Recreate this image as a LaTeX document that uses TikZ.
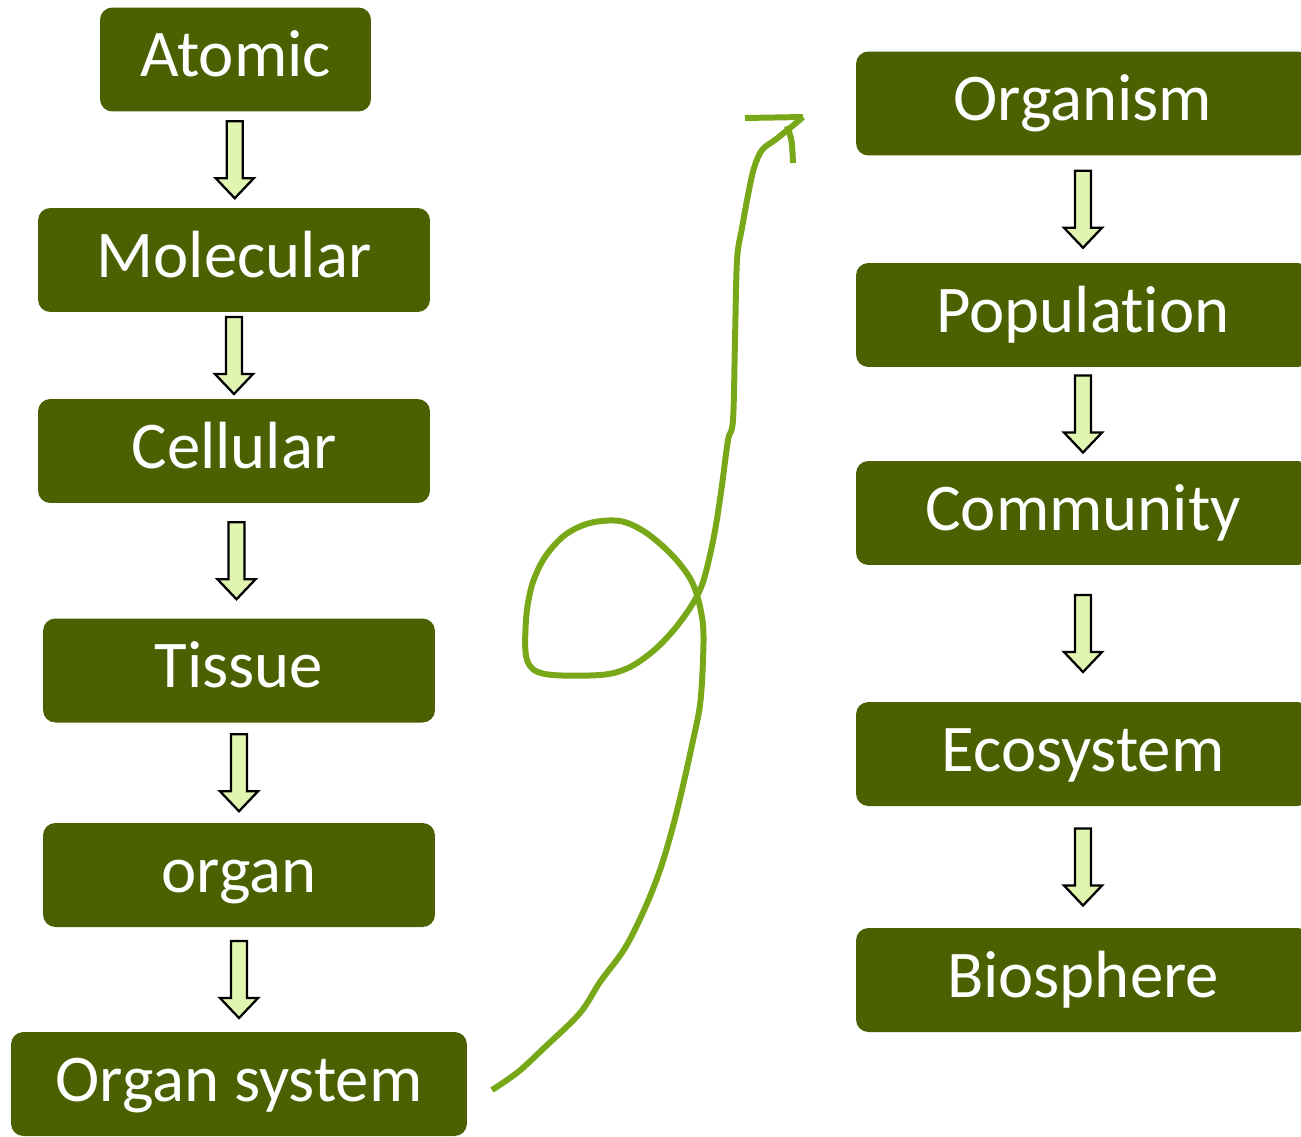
\documentclass[tikz,border=0pt]{standalone}
\usepackage{fontspec}
\setmainfont[Ligatures=NoCommon]{Carlito}
\usetikzlibrary{calc}
\definecolor{leaf}{HTML}{4B6000}
\definecolor{sprout}{HTML}{E0F5B0}
\definecolor{vine}{HTML}{78A818}
\newcommand{\fatdown}[2]{%
  \path ($(#1.south)!0.5!(#2.north)$) coordinate (mid);
  \draw[fatarrow] ($(mid)+(-8,-38.5)$) -- ++(16,0) -- ++(0,57) -- ++(11,0)
    -- ($(mid)+(0,38.5)$) -- ($(mid)+(-19,18.5)$) -- ++(11,0) -- cycle;}

\begin{document}
\begin{tikzpicture}[x=0.02cm,y=-0.02cm,
  level/.style={fill=leaf,rounded corners=7pt,text=white,inner sep=0pt,
    font=\fontsize{38}{40}\selectfont,text height=27.4pt,text depth=7.6pt,
    minimum height=2.08cm},
  fatarrow/.style={fill=sprout,draw=black,line width=1.3pt,line join=miter},
  swirl/.style={draw=vine,line width=3.4pt,line join=round}]
\useasboundingbox (0,0) rectangle (1301,1136);
\clip (0,0) rectangle (1301,1136);
% small scale, left column
\node[level,minimum width=5.42cm] (atomic) at (235.5,59.5) {Atomic};
\node[level,minimum width=7.84cm] (molecular) at (234,260) {Molecular};
\node[level,minimum width=7.84cm] (cellular) at (234,451) {Cellular};
\node[level,minimum width=7.84cm] (tissue) at (239,670.5) {Tissue};
\node[level,minimum width=7.84cm] (organ) at (239,875) {organ};
\node[level,minimum width=9.12cm] (osystem) at (239,1084) {Organ system};
% large scale, right column
\node[level,minimum width=9.08cm] (organism) at (1083,103.5) {Organism};
\node[level,minimum width=9.08cm] (population) at (1083,315) {Population};
\node[level,minimum width=9.08cm] (community) at (1083,513) {Community};
\node[level,minimum width=9.08cm] (ecosystem) at (1083,754) {Ecosystem};
\node[level,minimum width=9.08cm] (biosphere) at (1083,980) {Biosphere};
\foreach \a/\b in {atomic/molecular,molecular/cellular,cellular/tissue,
  tissue/organ,organ/osystem,organism/population,population/community,
  community/ecosystem,ecosystem/biosphere}
  \fatdown{\a}{\b};
% hand drawn link
\coordinate (swirlstart) at (492,1090);
\coordinate (swirltip) at (803,117);
\draw[swirl] plot[smooth,tension=0.55] coordinates {(swirlstart) (518,1072)
  (545,1047) (580,1013) (600,982) (625,948) (645,908) (660,870) (672,830)
  (682,790) (692,745) (700,705) (703,660) (703,625) (697,595) (688,575)
  (670,553) (645,532) (620,521) (590,523) (565,535) (545,557) (532,585)
  (526,620) (527,660) (545,674) (600,675) (628,668) (652,652) (672,632)
  (690,608) (702,585) (710,555) (716,525) (722,485) (728,440) (733,420)
  (735,340) (737,260) (742,228) (748,195) (754,168) (762,150) (775,140)
  (790,128) (swirltip)};
\draw[swirl] (745,118) -- (swirltip);
\draw[swirl] (787,126) .. controls (792,140) .. (793,163);
\end{tikzpicture}
\end{document}
